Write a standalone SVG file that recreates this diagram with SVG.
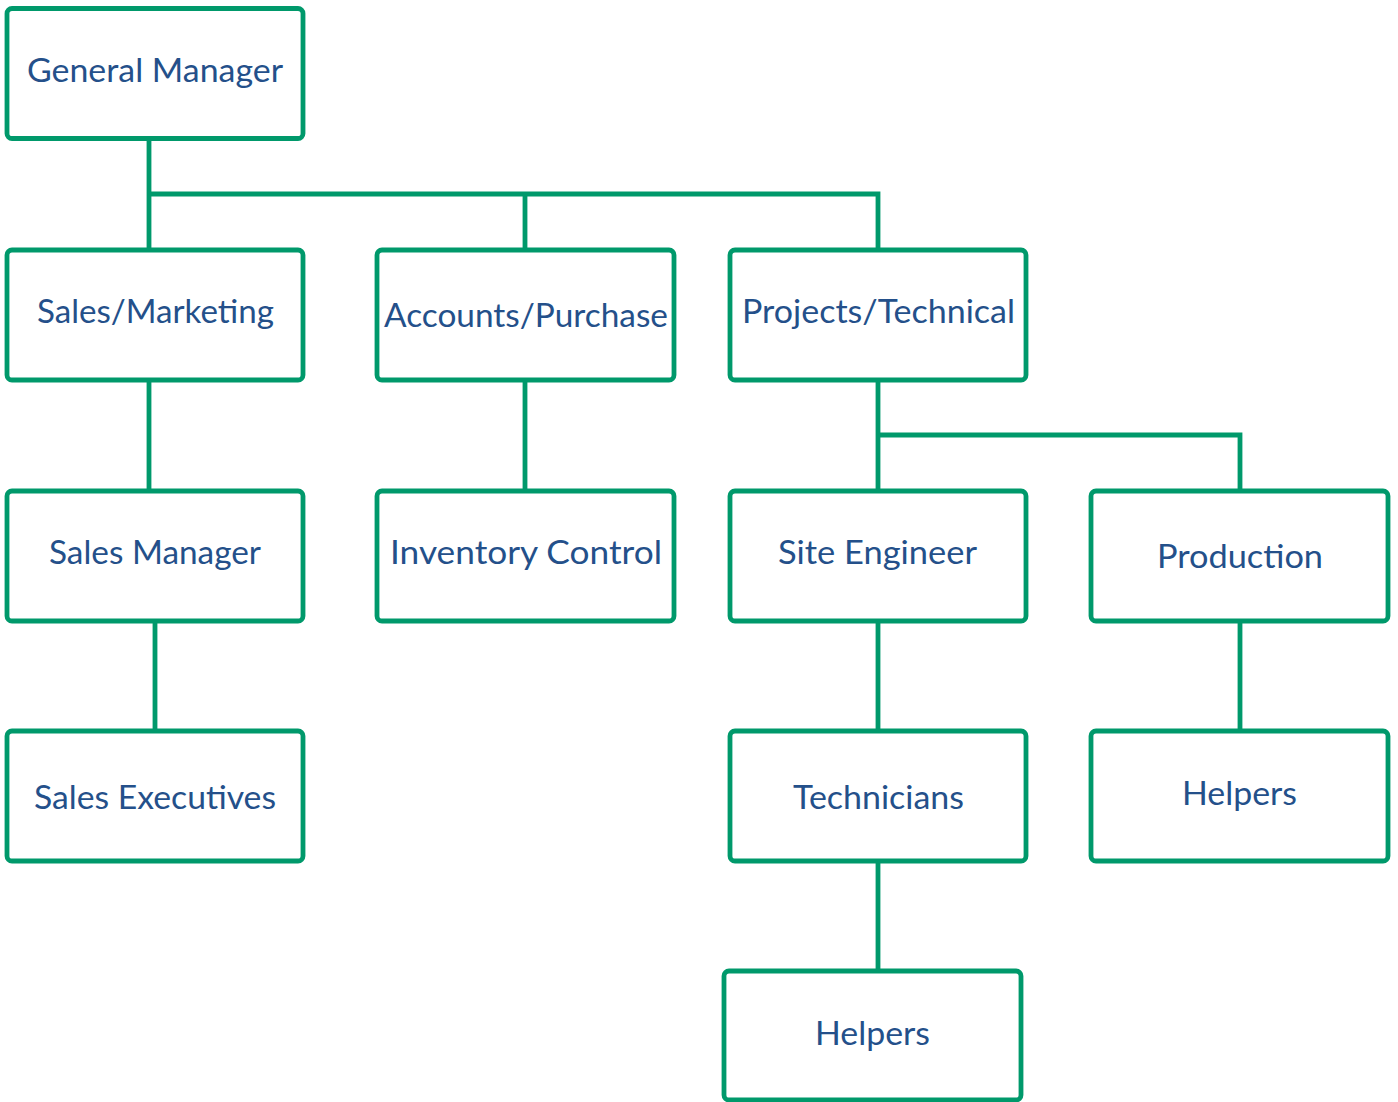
<svg xmlns="http://www.w3.org/2000/svg" width="1398" height="1102" viewBox="0 0 1398 1102">
<style>
.box{fill:#fff;stroke:#00996B;stroke-width:4.8}
.ln{fill:none;stroke:#00996B;stroke-width:4.8;stroke-linejoin:miter}
.t{font-family:Lato,"Open Sans","Liberation Sans",sans-serif;font-size:33px;font-weight:400;fill:#24508A;text-anchor:middle}
</style>
<rect width="1398" height="1102" fill="#fff"/>
<g id="connectors">
<path class="ln" d="M149 138V250M149 194H878V250M525 194V250"/>
<path class="ln" d="M149 380V491M525 380V491M878 380V491M878 435H1240V491"/>
<path class="ln" d="M155 621V731M878 621V731M1240 621V731M878 861V971"/>
</g>
<g id="general-manager"><rect class="box" x="7" y="8.5" width="296" height="130" rx="5"/><text class="t" x="155" y="82" textLength="256" lengthAdjust="spacingAndGlyphs">General Manager</text></g>
<g id="sales-marketing"><rect class="box" x="7" y="250" width="296" height="130" rx="5"/><text class="t" x="155.5" y="323" textLength="237" lengthAdjust="spacingAndGlyphs">Sales/Marketing</text></g>
<g id="accounts-purchase"><rect class="box" x="377" y="250" width="297" height="130" rx="5"/><text class="t" x="526" y="327" textLength="284" lengthAdjust="spacingAndGlyphs">Accounts/Purchase</text></g>
<g id="projects-technical"><rect class="box" x="730" y="250" width="296" height="130" rx="5"/><text class="t" x="878.5" y="323" textLength="273" lengthAdjust="spacingAndGlyphs">Projects/Technical</text></g>
<g id="sales-manager"><rect class="box" x="7" y="491" width="296" height="130" rx="5"/><text class="t" x="155" y="564" textLength="212" lengthAdjust="spacingAndGlyphs">Sales Manager</text></g>
<g id="inventory-control"><rect class="box" x="377" y="491" width="297" height="130" rx="5"/><text class="t" x="526" y="564" textLength="272" lengthAdjust="spacingAndGlyphs">Inventory Control</text></g>
<g id="site-engineer"><rect class="box" x="730" y="491" width="296" height="130" rx="5"/><text class="t" x="877.5" y="564" textLength="199" lengthAdjust="spacingAndGlyphs">Site Engineer</text></g>
<g id="production"><rect class="box" x="1091" y="491" width="297" height="130" rx="5"/><text class="t" x="1240" y="568" textLength="166" lengthAdjust="spacingAndGlyphs">Production</text></g>
<g id="sales-executives"><rect class="box" x="7" y="731" width="296" height="130" rx="5"/><text class="t" x="155" y="809" textLength="242" lengthAdjust="spacingAndGlyphs">Sales Executives</text></g>
<g id="technicians"><rect class="box" x="730" y="731" width="296" height="130" rx="5"/><text class="t" x="878.5" y="809" textLength="171" lengthAdjust="spacingAndGlyphs">Technicians</text></g>
<g id="helpers-production"><rect class="box" x="1091" y="731" width="297" height="130" rx="5"/><text class="t" x="1239.5" y="805" textLength="115" lengthAdjust="spacingAndGlyphs">Helpers</text></g>
<g id="helpers-technicians"><rect class="box" x="724" y="971" width="297" height="129" rx="5"/><text class="t" x="872.5" y="1045" textLength="115" lengthAdjust="spacingAndGlyphs">Helpers</text></g>
</svg>
